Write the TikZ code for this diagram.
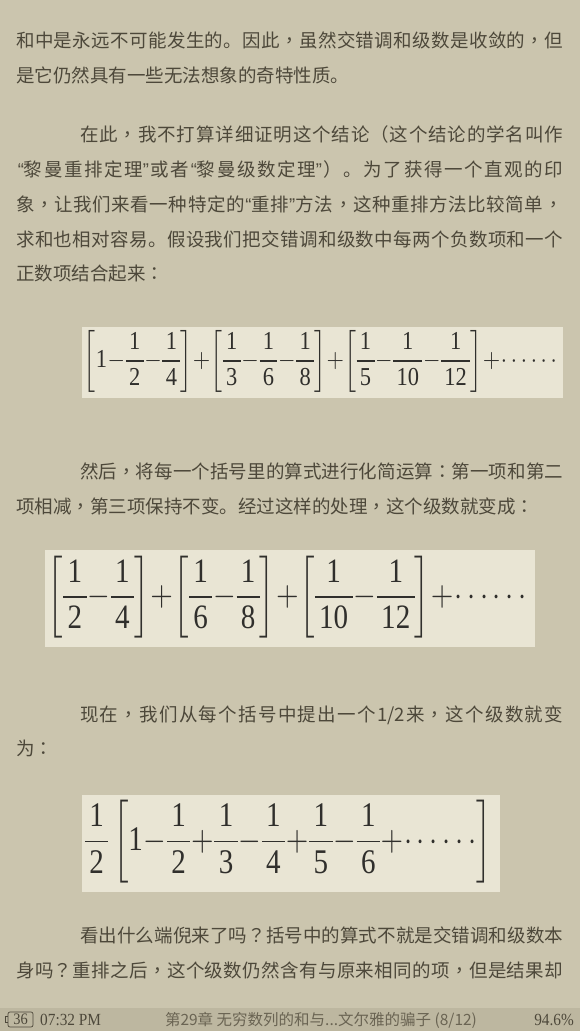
\documentclass[tikz,border=0pt]{standalone}
\usepackage{fontspec}
\usepackage{graphicx}
\setmainfont{Liberation Serif}
\newfontfamily\cjk{Noto Sans CJK SC}
\newfontfamily\cjktc{Noto Sans CJK TC}
\newfontfamily\quotefont{Liberation Sans}
%stretchable glue between CJK characters
\newcount\cjkcode
\cjkcode="4E00
\loop\XeTeXcharclass\cjkcode=7 \advance\cjkcode by 1 \ifnum\cjkcode<"A000 \repeat
\XeTeXcharclass`。=7 \XeTeXcharclass`，=7 \XeTeXcharclass`：=7
\XeTeXcharclass`？=7 \XeTeXcharclass`（=7 \XeTeXcharclass`）=7
\XeTeXinterchartokenstate=1
\XeTeXinterchartoks 7 7 {\hskip0pt plus 1pt\relax}
\XeTeXinterchartoks 7 0 {\hskip0pt plus 1pt\relax}
\XeTeXinterchartoks 0 7 {\hskip0pt plus 1pt\relax}
\definecolor{paper}{HTML}{CBC5AE}
\definecolor{card}{HTML}{E9E5D4}
\definecolor{ink}{HTML}{4D483A}
\definecolor{mathink}{HTML}{302F2C}
\definecolor{bar}{HTML}{BDB7A0}
\definecolor{barink}{HTML}{6A6453}
\tikzset{
  para/.style={anchor=base west,inner sep=0pt,text=ink,font=\cjk\fontsize{18.5pt}{18.5pt}\selectfont},
  card/.style={fill=card,draw=none},
  formula/.style={inner sep=0pt,text=mathink},
  status/.style={inner sep=0pt,text=ink,font=\fontsize{17pt}{17pt}\selectfont}
}
%centred punctuation and narrow quotes
\newcommand\cma{\hskip0pt plus 1pt{\cjktc ，}\hskip0pt plus 1pt\relax}
\newcommand\cln{{\cjktc ：}}
\newcommand\qmk{\hskip0pt plus 1pt{\cjktc ？}\hskip0pt plus 1pt\relax}
\newcommand\oquote{\hskip0pt plus 1pt{\quotefont “}}
\newcommand\cquote{{\quotefont ”}\hskip0pt plus 1pt\relax}
\newcommand\fr[2]{\frac{\hbox{\kern1.5pt#1\kern1.5pt}}{\hbox{\kern1.5pt#2\kern1.5pt}}}
%justified line: name, x, y, text
\newcommand\jline[4]{\node[para] (#1) at (#2,#3) {\makebox[\dimexpr563pt-#2pt\relax][s]{#4}};}
\begin{document}
\begin{tikzpicture}[x=1pt,y=-1pt]
\fill[paper](0,0)rectangle(580,1031);
\useasboundingbox(0,0)rectangle(580,1031);
\medmuskip=0.5mu \nulldelimiterspace=0pt
%paragraph 1
\jline{p1a}{16}{47}{和中是永远不可能发生的。因此\cma 虽然交错调和级数是收敛的\cma 但}
\node[para] (p1b) at (16,82) {是它仍然具有一些无法想象的奇特性质。};
%paragraph 2
\jline{p2a}{80}{141}{在此\cma 我不打算详细证明这个结论（这个结论的学名叫作}
\jline{p2b}{16}{176}{\oquote 黎曼重排定理\cquote 或者\oquote 黎曼级数定理\cquote）。为了获得一个直观的印}
\jline{p2c}{16}{211}{象\cma 让我们来看一种特定的\oquote 重排\cquote 方法\cma 这种重排方法比较简单\cma}
\jline{p2d}{16}{246}{求和也相对容易。假设我们把交错调和级数中每两个负数项和一个}
\node[para] (p2e) at (16,280) {正数项结合起来\cln};
%formula 1
\fill[card](82,327)rectangle(563,398);
\node[formula] (f1) at (320.5,361) {\resizebox*{473pt}{62pt}{$\displaystyle\left[\hbox{1}-\fr12-\fr14\right]+\left[\fr13-\fr16-\fr18\right]+\left[\fr15-\fr1{10}-\fr1{12}\right]+\cdots\cdots$}};
%paragraph 3
\jline{p3a}{80}{478}{然后\cma 将每一个括号里的算式进行化简运算\cln 第一项和第二}
\node[para] (p3b) at (16,513) {项相减\cma 第三项保持不变。经过这样的处理\cma 这个级数就变成\cln};
%formula 2
\fill[card](45,550)rectangle(535,647);
\node[formula] (f2) at (287.5,597) {\resizebox*{479pt}{82pt}{$\displaystyle\left[\fr12-\fr14\right]+\left[\fr16-\fr18\right]+\left[\fr1{10}-\fr1{12}\right]+\cdots\cdots$}};
%paragraph 4
\jline{p4a}{80}{721}{现在\cma 我们从每个括号中提出一个1/2来\cma 这个级数就变}
\node[para] (p4b) at (16,755) {为\cln};
%formula 3
\fill[card](82,795)rectangle(500,892);
\node[formula] (f3) at (288.5,841.5) {\resizebox*{407pt}{83pt}{$\displaystyle\fr12\left[\hbox{1}-\fr12+\fr13-\fr14+\fr15-\fr16+\cdots\cdots\right]$}};
%paragraph 5
\jline{p5a}{80}{942}{看出什么端倪来了吗\qmk 括号中的算式不就是交错调和级数本}
\jline{p5b}{16}{977}{身吗\qmk 重排之后\cma 这个级数仍然含有与原来相同的项\cma 但是结果却}
%status bar
\fill[bar](0,1008)rectangle(580,1031);
\node[status,draw=ink,line width=0.7pt,rounded corners=2pt,minimum width=25pt,minimum height=15pt,font=\fontsize{16pt}{16pt}\selectfont] (batt) at (20.5,1019.5) {\scalebox{0.9}[1]{36}};
\draw[ink,line width=0.7pt](batt.west)++(0,-3)--++(-2,0)--++(0,6)--++(2,0);
\node[status,anchor=west] (clock) at (40,1020) {\scalebox{0.9}[1]{07:32 PM}};
\node[status,text=barink,font=\cjk\fontsize{15.5pt}{15.5pt}\selectfont] (chap) at (321,1020) {第29章 无穷数列的和与...文尔雅的骗子 (8/12)};
\node[status,anchor=east] (pct) at (574,1020) {\scalebox{0.9}[1]{94.6\%}};
\end{tikzpicture}
\end{document}
